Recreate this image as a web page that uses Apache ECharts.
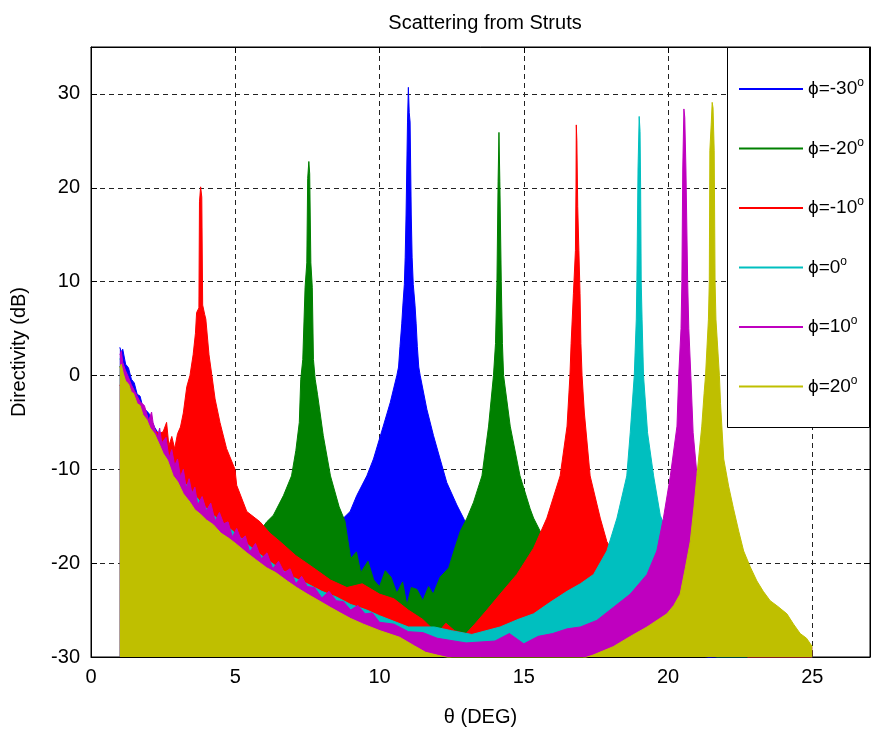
<!DOCTYPE html>
<html>
<head>
<meta charset="utf-8">
<script src="https://cdn.jsdelivr.net/npm/echarts@6/dist/echarts.min.js"></script>
<style>
  html, body { margin: 0; padding: 0; background: #fff; }
  #main { width: 872px; height: 732px; }
</style>
</head>
<body>
<div id="main"></div>
<script>
// 曲线上包络 [theta(deg), dB]
var phiM30 = [[1.0,3.0],[1.05,2.5],[1.1,2.8],[1.2,1.2],[1.3,0.8],[1.4,-0.4],[1.5,-0.8],[1.6,-2.0],[1.7,-2.2],[1.8,-3.4],[2.0,-4.0],[2.2,-5.5],[2.4,-6.5],[2.6,-8.0],[2.8,-9.0],[3.0,-10.5],[3.3,-11.5],[3.6,-13.0],[4.0,-14.0],[5.0,-16.0],[6.0,-17.5],[7.0,-18.0],[8.0,-17.0],[8.5,-16.0],[8.75,-15.2],[8.98,-14.5],[9.21,-12.8],[9.56,-10.7],[9.79,-8.9],[10.13,-5.4],[10.37,-2.9],[10.6,0],[10.66,0.9],[10.71,3.1],[10.77,5.5],[10.81,7.5],[10.86,9.7],[10.89,12.6],[10.92,17.1],[10.97,27.0],[11.0,30.7],[11.03,28.0],[11.06,27.0],[11.1,17.1],[11.13,12.6],[11.17,9.7],[11.23,7.5],[11.27,5.5],[11.31,3.1],[11.36,0.9],[11.41,0],[11.64,-3.6],[11.87,-6.4],[12.1,-8.9],[12.33,-11.4],[12.68,-13.8],[12.91,-15.2],[13.03,-16.0],[13.5,-18.0],[14.0,-20.0],[15.0,-22.0],[16.0,-24.0],[17.0,-26.0],[18.0,-27.0],[20.0,-29.0],[22.0,-30.5],[25.0,-30.5]];

var phiM20 = [[1.0,1.0],[1.3,-1.5],[1.6,-3.5],[2.0,-6.5],[2.5,-9.5],[3.0,-12.0],[3.5,-14.0],[4.0,-15.5],[4.5,-16.5],[5.0,-17.2],[5.5,-17.5],[5.8,-16.8],[6.09,-15.6],[6.32,-14.9],[6.67,-12.8],[6.95,-10.7],[7.1,-8.0],[7.22,-5.0],[7.27,-0.4],[7.34,1.7],[7.42,9.4],[7.48,12.0],[7.51,21.0],[7.55,22.8],[7.58,21.5],[7.62,12.0],[7.67,9.4],[7.71,1.7],[7.77,-0.4],[7.85,-2.0],[8.05,-6.4],[8.3,-10.7],[8.6,-14.0],[8.8,-15.5],[9.0,-19.5],[9.2,-18.8],[9.35,-21.0],[9.6,-19.8],[9.8,-21.8],[10.0,-22.5],[10.2,-20.8],[10.4,-21.5],[10.6,-23.2],[10.8,-22.0],[10.95,-24.5],[11.1,-22.6],[11.3,-22.8],[11.5,-24.0],[11.7,-22.5],[11.86,-23.3],[12.1,-21.5],[12.4,-20.5],[12.6,-18.5],[12.8,-16.6],[13.03,-15.2],[13.26,-13.5],[13.55,-10.7],[13.78,-5.4],[13.95,0],[14.02,3.4],[14.07,10.0],[14.11,20.7],[14.14,25.9],[14.17,20.7],[14.22,10.0],[14.26,3.4],[14.3,0],[14.53,-5.4],[14.87,-10.7],[15.22,-14.2],[15.34,-15.2],[15.8,-18.0],[16.3,-20.0],[17.0,-22.0],[18.0,-24.5],[19.0,-26.5],[20.0,-28.0],[21.0,-29.0],[22.0,-30.5],[25.0,-30.5]];

var phiM10 = [[1.0,-1.0],[1.2,-2.5],[1.5,-3.6],[1.8,-4.8],[2.0,-5.4],[2.2,-5.8],[2.35,-6.2],[2.5,-6.0],[2.62,-5.0],[2.7,-7.5],[2.8,-6.5],[2.9,-7.8],[3.0,-6.2],[3.1,-5.5],[3.2,-4.0],[3.32,-1.2],[3.43,0],[3.54,2.2],[3.62,4.5],[3.66,6.7],[3.74,7.2],[3.76,18.5],[3.8,20.1],[3.84,19.0],[3.87,7.5],[3.94,6.5],[3.98,6.0],[4.09,2.2],[4.19,0],[4.3,-2.5],[4.47,-5.0],[4.7,-7.8],[4.99,-10.0],[5.05,-11.7],[5.4,-14.5],[5.86,-15.6],[6.2,-16.8],[6.55,-17.7],[7.1,-19.2],[7.71,-20.5],[8.3,-21.8],[8.87,-22.6],[9.4,-22.2],[10.0,-23.3],[10.5,-23.8],[11.0,-25.0],[11.5,-26.0],[12.0,-27.5],[12.3,-26.4],[12.6,-27.2],[13.0,-27.5],[13.3,-26.5],[13.72,-25.0],[14.18,-23.3],[14.76,-21.2],[15.34,-18.4],[15.8,-15.2],[16.26,-10.7],[16.5,-5.4],[16.6,0],[16.64,3.4],[16.72,8.7],[16.79,13.3],[16.81,20.0],[16.82,26.7],[16.84,25.0],[16.87,18.0],[16.91,13.3],[16.95,8.7],[16.98,3.4],[17.02,0],[17.1,-4.0],[17.3,-10.7],[17.65,-15.2],[17.88,-17.7],[18.5,-21.0],[19.0,-23.0],[20.0,-25.0],[21.0,-27.0],[22.0,-28.5],[23.0,-30.5],[25.0,-30.5]];

var phi0 = [[1.0,1.8],[1.1,1.0],[1.2,0.2],[1.4,-1.5],[1.6,-2.8],[1.8,-3.8],[2.0,-5.2],[2.3,-6.8],[2.6,-8.5],[3.0,-10.5],[3.4,-12.0],[3.8,-13.5],[4.2,-14.8],[4.6,-15.8],[5.0,-16.8],[5.5,-18.2],[6.0,-19.4],[6.5,-20.5],[7.0,-21.5],[7.5,-22.2],[8.0,-23.0],[8.5,-23.6],[9.0,-24.4],[9.56,-25.0],[10.0,-25.6],[10.5,-26.2],[11.0,-26.8],[11.9,-26.8],[12.5,-27.2],[13.2,-27.6],[14.18,-26.8],[14.8,-26.0],[15.34,-25.4],[15.9,-24.2],[16.5,-23.0],[16.96,-22.2],[17.42,-21.2],[17.88,-18.7],[18.23,-15.2],[18.57,-10.7],[18.69,-6.1],[18.83,0],[18.9,6.0],[18.92,10.0],[18.96,22.0],[19.0,27.6],[19.03,26.0],[19.05,20.0],[19.07,10.0],[19.1,6.0],[19.15,0],[19.29,-6.1],[19.5,-10.7],[19.73,-14.9],[20.0,-17.0],[20.5,-20.0],[21.0,-22.0],[22.0,-25.0],[23.0,-27.0],[24.0,-29.0],[25.0,-30.0]];

var phi10 = [[1.0,2.2],[1.05,2.6],[1.1,1.4],[1.2,0.5],[1.3,-0.2],[1.4,-1.0],[1.5,-1.6],[1.6,-2.2],[1.7,-2.8],[1.85,-3.2],[2.0,-4.8],[2.1,-3.9],[2.15,-5.0],[2.3,-6.6],[2.38,-5.6],[2.45,-7.2],[2.5,-7.0],[2.6,-6.6],[2.7,-8.8],[2.8,-7.9],[2.9,-9.6],[3.0,-8.9],[3.1,-10.8],[3.2,-10.0],[3.3,-12.0],[3.4,-11.0],[3.5,-12.6],[3.6,-11.9],[3.7,-13.8],[3.85,-12.9],[4.0,-14.4],[4.15,-13.6],[4.3,-15.5],[4.45,-14.6],[4.6,-15.8],[4.75,-15.6],[4.9,-17.2],[5.05,-16.3],[5.2,-17.5],[5.35,-17.1],[5.5,-18.8],[5.7,-17.9],[5.9,-19.5],[6.1,-18.9],[6.3,-20.6],[6.5,-19.8],[6.7,-21.0],[6.9,-20.6],[7.1,-22.2],[7.3,-21.4],[7.5,-22.5],[7.75,-22.6],[8.0,-23.7],[8.25,-23.0],[8.5,-24.0],[8.75,-24.1],[9.0,-25.0],[9.25,-24.5],[9.5,-25.4],[9.75,-25.3],[10.0,-26.3],[10.5,-26.5],[11.0,-27.3],[11.5,-27.4],[12.0,-28.0],[13.0,-28.5],[14.0,-28.3],[14.5,-27.5],[15.0,-28.6],[15.5,-27.8],[16.0,-27.5],[16.5,-27.0],[16.96,-26.8],[17.53,-26.1],[18.11,-24.7],[18.69,-23.3],[19.27,-21.2],[19.61,-18.7],[19.84,-15.2],[20.08,-10.7],[20.31,-5.4],[20.37,0],[20.45,5.0],[20.48,10.0],[20.51,22.0],[20.55,28.4],[20.58,27.5],[20.62,22.0],[20.68,10.0],[20.72,5.0],[20.79,0],[20.87,-6.1],[21.0,-10.5],[21.2,-13.5],[21.5,-16.5],[22.0,-20.0],[22.5,-22.0],[23.0,-24.0],[24.0,-27.0],[25.0,-29.0]];

var phi20 = [[1.0,0.8],[1.05,1.2],[1.12,0.2],[1.2,-0.6],[1.3,-0.9],[1.4,-1.8],[1.47,-1.9],[1.6,-3.0],[1.7,-3.2],[1.8,-4.2],[1.93,-4.7],[2.05,-5.6],[2.2,-6.2],[2.39,-7.5],[2.5,-8.3],[2.65,-9.0],[2.85,-10.7],[3.0,-11.3],[3.2,-12.6],[3.43,-13.5],[3.6,-14.3],[3.8,-14.8],[4.0,-15.4],[4.24,-15.9],[4.5,-16.8],[4.8,-17.4],[5.05,-18.0],[5.4,-18.9],[5.7,-19.6],[6.09,-20.5],[6.4,-21.0],[6.8,-21.9],[7.13,-22.6],[7.5,-23.3],[7.9,-24.0],[8.29,-24.7],[8.7,-25.4],[9.0,-25.9],[9.44,-26.5],[10.02,-27.2],[10.7,-27.9],[11.2,-28.8],[11.6,-29.5],[12.0,-29.8],[13.0,-30.5],[16.5,-30.5],[17.0,-30.2],[17.4,-29.8],[18.1,-28.9],[18.7,-27.8],[19.27,-26.8],[19.96,-25.4],[20.2,-24.5],[20.42,-23.3],[20.6,-20.5],[20.77,-17.7],[20.9,-14.0],[21.0,-10.7],[21.17,-5.4],[21.25,-1.9],[21.3,0],[21.4,6.0],[21.43,10.0],[21.45,24.0],[21.5,27.0],[21.53,29.1],[21.56,28.5],[21.6,24.0],[21.63,10.0],[21.66,6.0],[21.78,0],[21.82,-3.0],[21.93,-8.9],[22.1,-11.8],[22.27,-14.2],[22.45,-16.6],[22.62,-18.7],[22.85,-20.4],[23.08,-21.9],[23.3,-23.0],[23.54,-24.0],[23.8,-24.6],[24.12,-25.4],[24.35,-26.5],[24.58,-27.5],[24.8,-28.0],[25.0,-28.9]];

var seriesNames = ['ϕ=-30°', 'ϕ=-20°', 'ϕ=-10°', 'ϕ=0°', 'ϕ=10°', 'ϕ=20°'];
var seriesData = [phiM30, phiM20, phiM10, phi0, phi10, phi20];
var seriesColors = ['#0000ff', '#008000', '#ff0000', '#00bfbf', '#bf00bf', '#bfbf00'];

var FONT = "'Liberation Sans', Arial, sans-serif";

var myChart = echarts.init(document.getElementById('main'), null, { renderer: 'canvas' });

// 每条曲线单独的 z，后画的盖住前面的（和 MATLAB 一样）
var series = seriesData.map(function (d, i) {
    return {
        name: seriesNames[i],
        type: 'line',
        data: d,
        z: 2 + i,
        showSymbol: false,
        symbol: 'none',
        animation: false,
        color: seriesColors[i],
        lineStyle: { width: 1, color: seriesColors[i] },
        areaStyle: { origin: 'start', color: seriesColors[i], opacity: 1 },
        clip: true
    };
});

var gridLine = { show: true, lineStyle: { color: '#222', type: [5, 4], width: 1 } };

var option = {
    backgroundColor: '#fff',
    animation: false,
    title: {
        text: 'Scattering from Struts',
        left: 480,
        top: 8,
        textAlign: 'center',
        textStyle: { fontFamily: FONT, fontSize: 20, fontWeight: 'normal', color: '#000' }
    },
    grid: {
        left: 91, right: 2, top: 47, bottom: 69,
        show: true, borderColor: '#000', borderWidth: 1, backgroundColor: '#fff'
    },
    legend: {
        orient: 'vertical',
        left: 727,
        top: 47,
        padding: [30, 6, 29, 12],
        itemGap: 38,
        itemWidth: 64,
        itemHeight: 2,
        icon: 'rect',
        z: 21,
        data: seriesNames,
        formatter: function (name) {
            return '{a|' + name.replace('°', '') + '}{s|o}';
        },
        textStyle: {
            color: '#000',
            rich: {
                a: { fontFamily: FONT, fontSize: 19, lineHeight: 24, color: '#000' },
                s: { fontFamily: FONT, fontSize: 12, lineHeight: 12, verticalAlign: 'top', color: '#000' }
            }
        }
    },
    graphic: [{
        type: 'rect',
        z: 20,
        silent: true,
        shape: { x: 727.5, y: 47.5, width: 142, height: 380 },
        style: { fill: '#fff', stroke: '#000', lineWidth: 1 }
    }],
    xAxis: [{
        type: 'value',
        min: 0, max: 27, interval: 5,
        name: 'θ (DEG)',
        nameLocation: 'middle',
        nameGap: 50,
        nameTextStyle: { fontFamily: FONT, fontSize: 20, color: '#000' },
        axisLine: { show: true, onZero: false, lineStyle: { color: '#000', width: 1 } },
        axisTick: { show: true, inside: true, length: 6, lineStyle: { color: '#000' } },
        axisLabel: { fontFamily: FONT, fontSize: 20, color: '#000', margin: 10, showMaxLabel: false },
        splitLine: gridLine
    }, {
        type: 'value',
        position: 'top',
        min: 0, max: 27, interval: 5,
        axisLine: { show: true, onZero: false, lineStyle: { color: '#000', width: 1 } },
        axisTick: { show: true, inside: true, length: 6, lineStyle: { color: '#000' } },
        axisLabel: { show: false },
        splitLine: { show: false }
    }],
    yAxis: [{
        type: 'value',
        min: -30, max: 35, interval: 10,
        name: 'Directivity (dB)',
        nameLocation: 'middle',
        nameGap: 62,
        nameTextStyle: { fontFamily: FONT, fontSize: 20, color: '#000' },
        axisLine: { show: true, onZero: false, lineStyle: { color: '#000', width: 1 } },
        axisTick: { show: true, inside: true, length: 6, lineStyle: { color: '#000' } },
        axisLabel: { fontFamily: FONT, fontSize: 20, color: '#000', margin: 11, showMaxLabel: false },
        splitLine: gridLine
    }, {
        type: 'value',
        position: 'right',
        min: -30, max: 35, interval: 10,
        axisLine: { show: true, onZero: false, lineStyle: { color: '#000', width: 1 } },
        axisTick: { show: true, inside: true, length: 6, lineStyle: { color: '#000' } },
        axisLabel: { show: false },
        splitLine: { show: false }
    }],
    series: series
};

myChart.setOption(option);
</script>
</body>
</html>
